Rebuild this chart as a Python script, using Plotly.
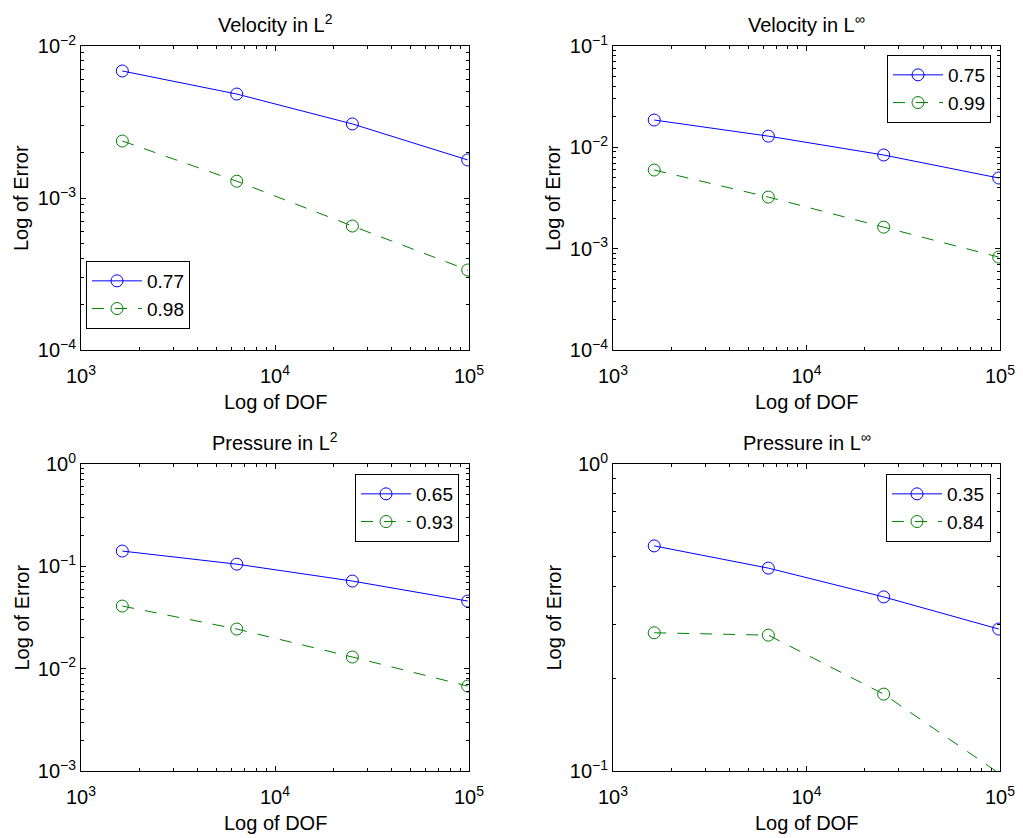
import plotly.graph_objects as go

# ---------------- data ----------------
dof = [1633, 6350, 25050, 98500]

vel_l2_a = [0.00685, 0.00483, 0.00307, 0.00178]
vel_l2_b = [0.00237, 0.00129, 0.000654, 0.000336]

vel_linf_a = [0.0186, 0.0129, 0.0084, 0.00498]
vel_linf_b = [0.00597, 0.00323, 0.00163, 0.000826]

pre_l2_a = [0.141, 0.105, 0.0718, 0.0458]
pre_l2_b = [0.0409, 0.0244, 0.0130, 0.00676]

pre_linf_a = [0.541, 0.458, 0.369, 0.290]
pre_linf_b = [0.282, 0.277, 0.178, 0.0985]

titles = ["Velocity in L<sup>2</sup>", "Velocity in L<sup>∞</sup>",
          "Pressure in L<sup>2</sup>", "Pressure in L<sup>∞</sup>"]
rates = [("0.77", "0.98"), ("0.75", "0.99"), ("0.65", "0.93"), ("0.35", "0.84")]
yranges = [(-4, -2), (-4, -1), (-3, 0), (-1, 0)]
xrange_ = (3, 5)
xlabel = "Log of DOF"
ylabel = "Log of Error"

series = [(vel_l2_a, vel_l2_b), (vel_linf_a, vel_linf_b),
          (pre_l2_a, pre_l2_b), (pre_linf_a, pre_linf_b)]

# ---------------- layout geometry (page pixels) ----------------
OFF = 8                      # default body margin of the html page
W, H = 1023 - OFF, 838 - OFF  # figure size so that it fits the window
FONT = "Liberation Sans, Arial, Helvetica, sans-serif"
boxes = [  # (left, right, top, bottom) in page px
    (81, 469, 46, 350), (613, 1000, 46, 350),
    (81, 469, 464, 771), (613, 1000, 464, 771),
]
legend_pos = [  # (x, y, xanchor, yanchor) page px
    (86, 329, "left", "bottom"), (991, 55, "right", "top"),
    (459, 474, "right", "top"), (991, 474, "right", "top"),
]


def px(xp):
    return (xp - OFF) / W


def py(yp):
    return 1 - (yp - OFF) / H


BLUE = "rgb(0,0,255)"
GREEN = "rgb(0,128,0)"
CLEAR = "rgba(0,0,0,0)"


def log_ticks(lo, hi):
    vals = [10.0 ** k for k in range(lo, hi + 1)]
    text = ["10<sup>" + str(k).replace("-", "\u2212") + "</sup>"
            for k in range(lo, hi + 1)]
    minor = [m * 10.0 ** k for k in range(lo, hi) for m in range(2, 10)]
    return vals, text, minor


def axis_style(lo, hi):
    tv, tt, mv = log_ticks(lo, hi)
    return dict(
        type="log", showline=True, linecolor="black", linewidth=1,
        mirror="allticks", ticks="inside", ticklen=5, tickcolor="black",
        tickwidth=1, showgrid=False, zeroline=False, automargin=False,
        tickmode="array", tickvals=tv, ticktext=tt,
        tickfont=dict(family=FONT, size=20, color="black"),
        minor=dict(ticks="inside", ticklen=3, tickmode="array",
                   tickvals=mv, tickcolor="black", showgrid=False),
    )


fig = go.Figure()
annotations = []

for i in range(4):
    sfx = "" if i == 0 else str(i + 1)
    xa, ya = "x" + sfx, "y" + sfx
    lg = "legend" if i == 0 else "legend" + str(i + 1)
    ymin = 10 ** yranges[i][0]
    for vals, color, dash, name in [
        (series[i][0], BLUE, "solid", rates[i][0]),
        (series[i][1], GREEN, "12px,11px", rates[i][1]),
    ]:
        # like MATLAB: markers whose centre is outside the axes are not drawn
        mcolors = [color if v >= ymin else CLEAR for v in vals]
        fig.add_trace(go.Scatter(
            x=dof, y=vals, name=name, mode="lines+markers",
            xaxis=xa, yaxis=ya, legend=lg,
            line=dict(color=color, width=1, dash=dash),
            marker=dict(symbol="circle-open", size=12, color=mcolors,
                        line=dict(width=1, color=mcolors)),
        ))

    l, r, t, b = boxes[i]
    fig.layout["xaxis" + sfx] = dict(
        axis_style(*xrange_), domain=[px(l), px(r)], range=list(xrange_),
        anchor=ya, ticklabelstandoff=8)
    fig.layout["yaxis" + sfx] = dict(
        axis_style(*yranges[i]), domain=[py(b), py(t)],
        range=list(yranges[i]), anchor=xa)

    lx, ly, xan, yan = legend_pos[i]
    fig.layout[lg] = dict(
        x=px(lx), y=py(ly), xanchor=xan, yanchor=yan,
        bgcolor="white", bordercolor="black", borderwidth=1,
        font=dict(family=FONT, size=19, color="black"),
        tracegroupgap=0, itemwidth=50, entrywidth=62,
    )

    cx = (l + r) / 2
    annotations.append(dict(
        text=titles[i], x=px(cx), y=py(t - 23), xref="paper",
        yref="paper", xanchor="center", yanchor="middle", showarrow=False,
        font=dict(family=FONT, size=20, color="black")))
    annotations.append(dict(
        text=xlabel, x=px(cx), y=py(b + 52), xref="paper",
        yref="paper", xanchor="center", yanchor="middle", showarrow=False,
        font=dict(family=FONT, size=20, color="black")))
    annotations.append(dict(
        text=ylabel, x=px(l - 60), y=py((t + b) / 2), xref="paper",
        yref="paper", xanchor="center", yanchor="middle", showarrow=False,
        textangle=-90, font=dict(family=FONT, size=20, color="black")))

fig.update_layout(
    width=W, height=H, margin=dict(l=0, r=0, t=0, b=0, autoexpand=False),
    paper_bgcolor="white", plot_bgcolor="white",
    annotations=annotations, showlegend=True,
    font=dict(family=FONT, size=20, color="black"),
)

fig.write_html("out.html")
